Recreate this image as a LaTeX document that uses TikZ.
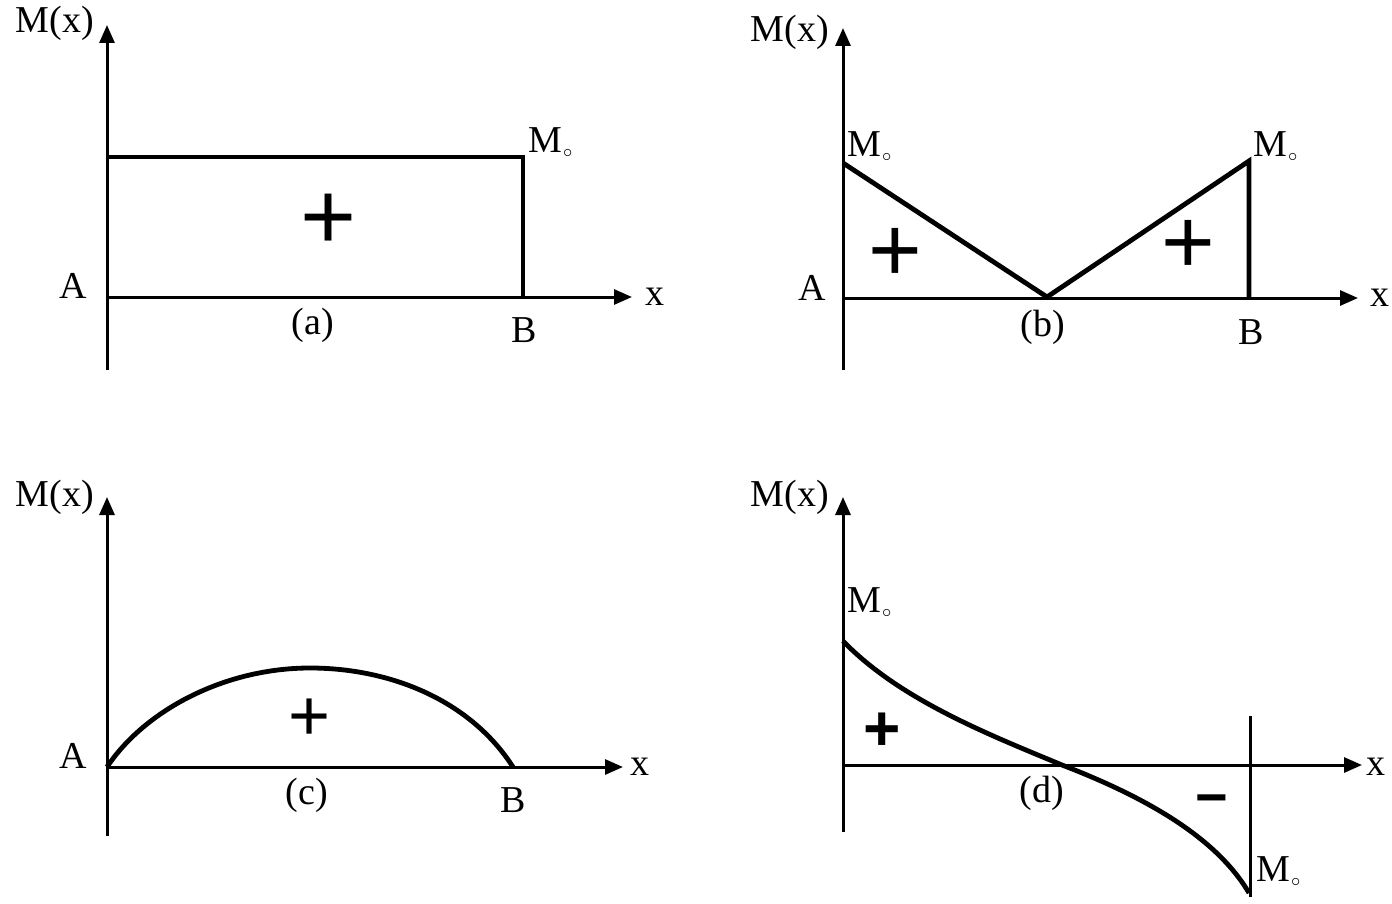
\documentclass[tikz,border=0pt]{standalone}
\usepackage{fontspec}
\setmainfont{Liberation Serif}
\newfontfamily\signfont{Liberation Sans}
\usetikzlibrary{arrows.meta}
\newcommand{\Mo}{M\kern0.5pt\raisebox{-2.5pt}{$\scriptscriptstyle\circ$}}
\tikzset{
  axis/.style={line width=1.5pt,-{Triangle[length=9pt,width=7.5pt]}},
  plain/.style={line width=1.5pt},
  curve/.style={line width=2.4pt,line join=miter},
  lbl/.style={inner sep=0pt,font=\fontsize{19}{22}\selectfont},
  sign/.style={inner sep=0pt,font=\signfont\fontsize{#1}{#1}\selectfont},
  bsign/.style={inner sep=0pt,font=\signfont\bfseries\fontsize{#1}{#1}\selectfont},
}
\begin{document}
\begin{tikzpicture}[x=0.5pt,y=-0.5pt]
\useasboundingbox (0,0) rectangle (1392,904);
% ---------- (a) ----------
\coordinate (aO) at (107,297);
\coordinate (aBot) at (107,370);
\coordinate (aTop) at (107,25);
\coordinate (aX) at (632,297);
\coordinate (aL) at (107,157);
\coordinate (aR) at (523,157);
\coordinate (aB) at (523,297);
\draw[axis] (aBot) -- (aTop);
\draw[axis] (aO) -- (aX);
\draw[curve] (aL) -- (aR) -- (aB);
\node[lbl] (aM) at (55,23) {M(x)};
\node[lbl,anchor=west] (aMo) at (528,143) {\Mo};
\node[lbl] (aA) at (73,286) {A};
\node[lbl] (ax) at (655,297) {x};
\node[lbl] (acap) at (313,325) {(a)};
\node[lbl] (aBl) at (524,330) {B};
\node[sign=48] (ap) at (329,222) {+};
% ---------- (b) ----------
\coordinate (bO) at (843,298);
\coordinate (bBot) at (843,370);
\coordinate (bTop) at (843,28);
\coordinate (bX) at (1358,298);
\coordinate (bL) at (843,163);
\coordinate (bV) at (1047,297);
\coordinate (bR) at (1249,161);
\coordinate (bB) at (1249,298);
\draw[axis] (bBot) -- (bTop);
\draw[axis] (bO) -- (bX);
\draw[curve] (bL) -- (bV) -- (bR) -- (bB);
\node[lbl] (bM) at (790,32) {M(x)};
\node[lbl,anchor=west] (bMo1) at (847,147) {\Mo};
\node[lbl,anchor=west] (bMo2) at (1253,147) {\Mo};
\node[lbl] (bA) at (812,288) {A};
\node[lbl] (bx) at (1380,298) {x};
\node[lbl] (bcap) at (1043,327) {(b)};
\node[lbl] (bBl) at (1251,332) {B};
\node[sign=46] (bp1) at (895,255) {+};
\node[sign=46] (bp2) at (1188,247) {+};
% ---------- (c) ----------
\coordinate (cO) at (107,767);
\coordinate (cBot) at (107,836);
\coordinate (cTop) at (107,497);
\coordinate (cX) at (623,767);
\coordinate (cB) at (513,767);
\coordinate (cPk) at (310,668);
\draw[axis] (cBot) -- (cTop);
\draw[axis] (cO) -- (cX);
\draw[curve] (cO) .. controls (145,710) and (225,668) .. (cPk)
  .. controls (390,668) and (470,700) .. (cB);
\node[lbl] (cM) at (55,497) {M(x)};
\node[lbl] (cA) at (73,756) {A};
\node[lbl] (cx) at (640,767) {x};
\node[lbl] (ccap) at (307,795) {(c)};
\node[lbl] (cBl) at (513,800) {B};
\node[sign=36] (cp) at (310,720) {+};
% ---------- (d) ----------
\coordinate (dO) at (843,765);
\coordinate (dBot) at (843,832);
\coordinate (dTop) at (843,497);
\coordinate (dX) at (1362,765);
\coordinate (dS) at (843,641);
\coordinate (dZ) at (1062,765);
\coordinate (dE) at (1249,893);
\coordinate (dVt) at (1250,716);
\coordinate (dVb) at (1250,897);
\draw[axis] (dBot) -- (dTop);
\draw[axis] (dO) -- (dX);
\draw[plain] (dVt) -- (dVb);
\draw[curve] (dS) .. controls (900,700) and (990,735) .. (dZ)
  .. controls (1140,795) and (1215,835) .. (dE);
\node[lbl] (dM) at (790,497) {M(x)};
\node[lbl,anchor=west] (dMo1) at (847,603) {\Mo};
\node[lbl,anchor=west] (dMo2) at (1256,872) {\Mo};
\node[lbl] (dx) at (1376,767) {x};
\node[lbl] (dcap) at (1042,793) {(d)};
\node[bsign=32] (dp) at (882,732) {+};
\node[bsign=28] (dm) at (1212,806) {−};
\end{tikzpicture}
\end{document}
